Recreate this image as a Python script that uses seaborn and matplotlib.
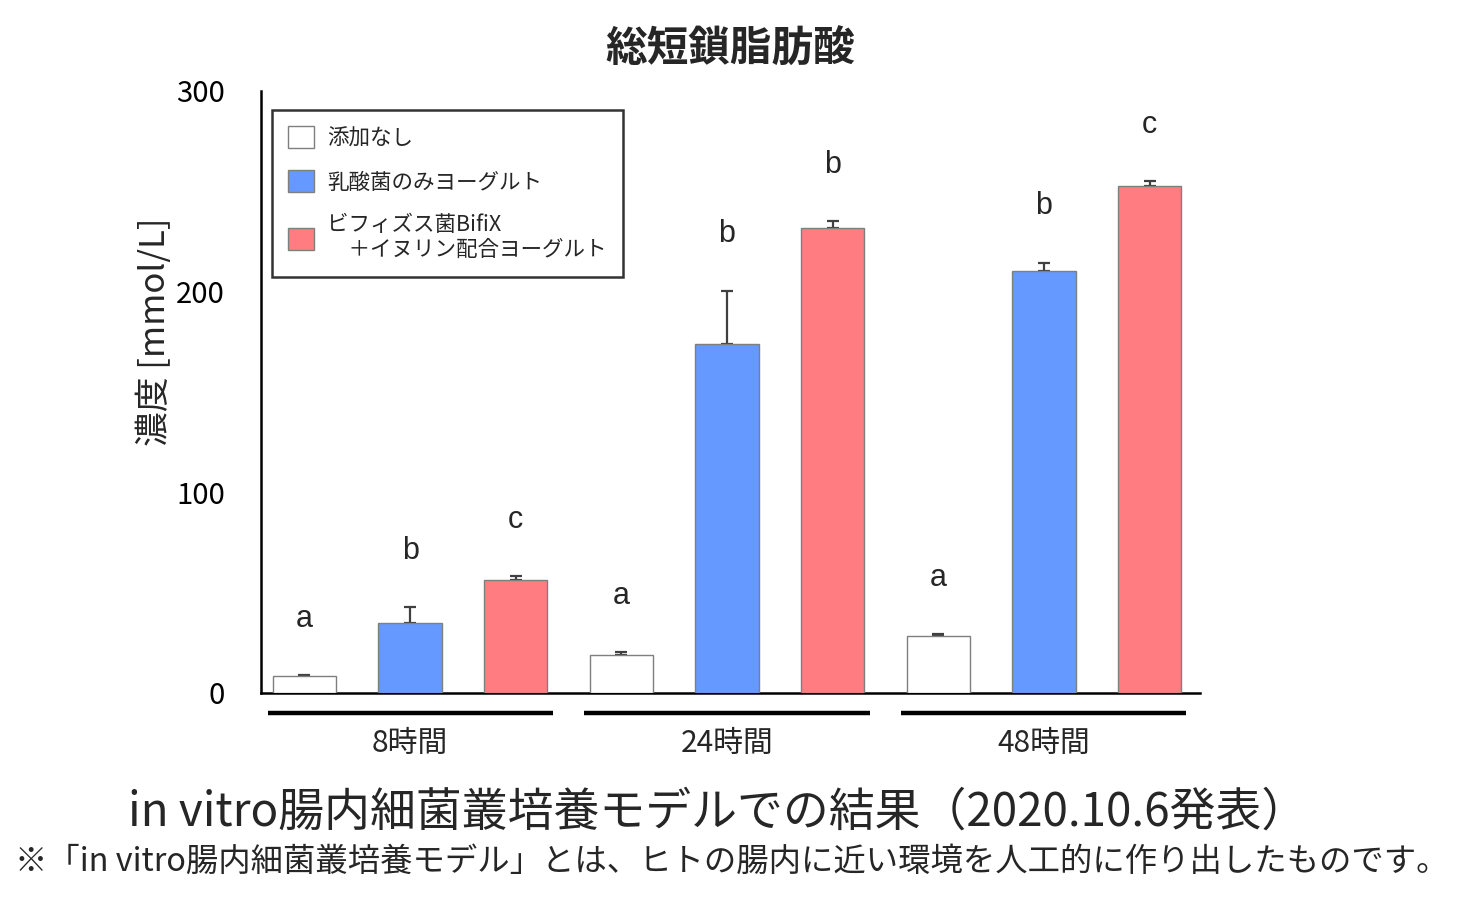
import pandas as pd
import matplotlib
matplotlib.use("Agg")
import matplotlib.pyplot as plt
import seaborn as sns

# Data (mmol/L)
times = ["8時間", "24時間", "48時間"]
groups = ["添加なし", "乳酸菌のみヨーグルト", "ビフィズス菌BifiX\n　＋イヌリン配合ヨーグルト"]
mean_none = [8.5, 19.0, 28.5]
mean_lacto = [35.0, 174.0, 210.5]
mean_bifix = [56.5, 231.5, 252.5]
sd_none = [0.6, 1.2, 1.0]
sd_lacto = [8.0, 26.5, 4.0]
sd_bifix = [1.6, 3.8, 2.5]
letters_none = ["a", "a", "a"]
letters_lacto = ["b", "b", "b"]
letters_bifix = ["c", "b", "c"]

colors = ["#FFFFFF", "#6699FF", "#FF7C80"]

means = [mean_none, mean_lacto, mean_bifix]
sds = [sd_none, sd_lacto, sd_bifix]
letters = [letters_none, letters_lacto, letters_bifix]

rows = []
for g, m in zip(groups, means):
    for t, v in zip(times, m):
        rows.append({"time": t, "group": g, "value": v})
df = pd.DataFrame(rows)

sns.set_style("white")
plt.rcParams["font.family"] = ["Noto Sans CJK JP", "DejaVu Sans"]

fig = plt.figure(figsize=(14.64, 9.07), dpi=100)
ax = fig.add_axes([261 / 1464, 1 - 693 / 907, 939 / 1464, 602 / 907])

sns.barplot(
    data=df, x="time", y="value", hue="group",
    order=times, hue_order=groups, palette=colors, saturation=1,
    width=1.0, gap=0.4, errorbar=None,
    edgecolor="#7F7F7F", linewidth=1.0, legend=False, ax=ax, zorder=3,
)

# error bars (upper half only) and significance letters
for container, sd, lab in zip(ax.containers, sds, letters):
    xs = [p.get_x() + p.get_width() / 2 for p in container]
    hs = [p.get_height() for p in container]
    ax.errorbar(xs, hs, yerr=[[0] * len(sd), sd], fmt="none",
                ecolor="#404040", elinewidth=1.6, capsize=4.5,
                capthick=1.6, zorder=2)
    for x, h, s, l in zip(xs, hs, sd, lab):
        ax.text(x, h + s + 28, l, ha="center", va="center", fontsize=22,
                family=["Liberation Sans", "DejaVu Sans"])

ax.set_xlim(-0.4706, 2.4927)
ax.set_ylim(0, 300)
ax.set_yticks([0, 100, 200, 300])
ax.tick_params(axis="y", direction="in", length=7, width=1.8,
               labelsize=21, pad=26, colors="black")
ax.tick_params(axis="x", length=0, labelsize=21.5, pad=25)
ax.set_xlabel("")
ax.set_ylabel("濃度 [mmol/L]", fontsize=25)
ax.yaxis.set_label_coords(-0.094, 0.6)

for side in ["top", "right"]:
    ax.spines[side].set_visible(False)
for side in ["left", "bottom"]:
    ax.spines[side].set_color("black")
    ax.spines[side].set_linewidth(1.8)

# group underline bars below the axis
trans = ax.get_xaxis_transform()
for i in range(len(times)):
    ax.plot([i - 0.45, i + 0.45], [-0.034, -0.034], color="black",
            lw=3.2, transform=trans, clip_on=False, solid_capstyle="butt")

leg = ax.legend(ax.containers, groups, loc="upper left",
                bbox_to_anchor=(0.012, 0.968), borderaxespad=0,
                fontsize=15.5, frameon=True, fancybox=False,
                handlelength=1.2, handleheight=1.2, labelspacing=0.95,
                handletextpad=0.6, borderpad=0.75)
leg.get_frame().set_edgecolor("black")
leg.get_frame().set_linewidth(1.8)

fig.text(0.499, 0.945, "総短鎖脂肪酸", ha="center", va="center",
         fontsize=30, fontweight="bold")
fig.text(0.49, 0.1047, "in vitro腸内細菌叢培養モデルでの結果（2020.10.6発表）",
         ha="center", va="center", fontsize=33)
fig.text(0.5, 0.0496,
         "※「in vitro腸内細菌叢培養モデル」とは、ヒトの腸内に近い環境を人工的に作り出したものです。",
         ha="center", va="center", fontsize=23.3)

fig.savefig("out.png", dpi=100, facecolor="white")
